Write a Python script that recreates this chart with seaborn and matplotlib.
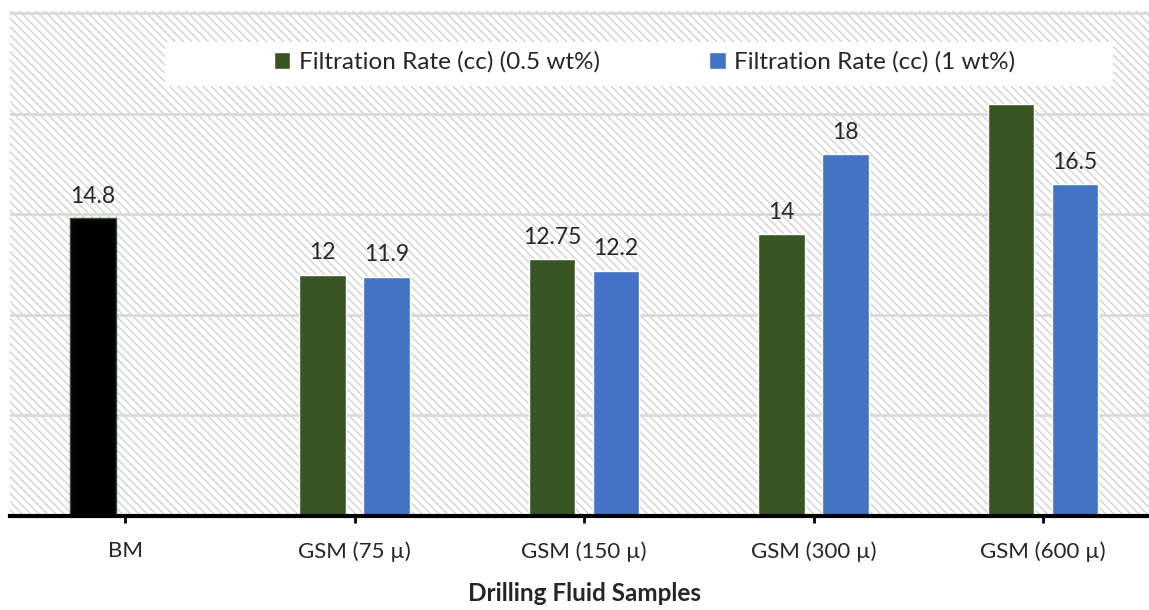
import matplotlib
matplotlib.use("Agg")
import matplotlib.pyplot as plt
import seaborn as sns
import pandas as pd
import numpy as np
from matplotlib.patches import Rectangle

categories = ["BM", "GSM (75 µ)", "GSM (150 µ)", "GSM (300 µ)", "GSM (600 µ)"]
series_names = ["Filtration Rate (cc) (0.5 wt%)", "Filtration Rate (cc) (1 wt%)"]
rate_05 = [14.8, 12.0, 12.75, 14.0, 20.5]
rate_1 = [np.nan, 11.9, 12.2, 18.0, 16.5]
labels_05 = ["14.8", "12", "12.75", "14", ""]
labels_1 = ["11.9", "12.2", "18", "16.5"]
x_title = "Drilling Fluid Samples"

sns.set_style("white")
plt.rcParams["font.family"] = ["Lato", "DejaVu Sans"]
plt.rcParams["hatch.color"] = "#d2d2d2"
plt.rcParams["hatch.linewidth"] = 1.0

rows = []
for c, v in zip(categories, rate_05):
    rows.append({"cat": c, "series": series_names[0], "val": v})
for c, v in zip(categories, rate_1):
    rows.append({"cat": c, "series": series_names[1], "val": v})
df = pd.DataFrame(rows).dropna()

W, H = 1149, 610
ax_l, ax_r = 10.25, 1157.75
ax_b, ax_t = 516, 11
fig = plt.figure(figsize=(W/100, H/100), dpi=100)
ax = fig.add_axes([ax_l/W, (H-ax_b)/H, (ax_r-ax_l)/W, (ax_b-ax_t)/H])

# hatched background
bg = Rectangle((0, 0), 1, 1, transform=ax.transAxes, facecolor="white",
               edgecolor="#d2d2d2", linewidth=0, hatch="\\\\\\\\", zorder=0)
ax.add_patch(bg)

palette = {series_names[0]: "#375623", series_names[1]: "#4472c4"}
sns.barplot(data=df, x="cat", y="val", hue="series", order=categories,
            hue_order=series_names, palette=palette, width=0.56, gap=0.28,
            saturation=1, ax=ax, zorder=3, legend=False)

ax.set_ylim(0, 25.1)
ax.set_xlim(-0.5, 4.5)
ax.set_yticks([0, 5, 10, 15, 20, 25])
ax.yaxis.grid(True, color="#d9d9d9", linewidth=2, zorder=1)
ax.set_axisbelow(True)
ax.tick_params(axis="y", left=False, labelleft=False)

for s in ["top", "left", "right"]:
    ax.spines[s].set_visible(False)
ax.spines["bottom"].set_color("black")
ax.spines["bottom"].set_linewidth(3)
ax.spines["bottom"].set_zorder(5)
ax.tick_params(axis="x", bottom=True, length=5, width=2, color="black",
               labelsize=16, pad=13)

# BM bar black
bm_bar = ax.containers[0][0]
bm_bar.set_facecolor("black")
bm_bar.set_edgecolor("#375623")
bm_bar.set_linewidth(1)

ax.bar_label(ax.containers[0], labels=labels_05, padding=8, fontsize=16.5)
ax.bar_label(ax.containers[1], labels=labels_1, padding=8, fontsize=16.5)

ax.set_xlabel(x_title, fontsize=17.5, fontweight="bold", labelpad=15)
ax.set_ylabel("")

# legend white box
aw = ax_r - ax_l
ah = ax_b - ax_t
lx0, lx1 = (165-ax_l)/aw, (1113-ax_l)/aw
ly0, ly1 = (ax_b-86)/ah, (ax_b-42)/ah
ax.add_patch(Rectangle((lx0, ly0), lx1-lx0, ly1-ly0, transform=ax.transAxes,
                       facecolor="white", edgecolor="none", zorder=6))
handles = [Rectangle((0, 0), 1, 1, facecolor=palette[n]) for n in series_names]
leg = ax.legend(handles, series_names, loc="center", ncol=2, frameon=False,
                bbox_to_anchor=((lx0+lx1)/2 + 0.005, (ly0+ly1)/2 + 0.004),
                fontsize=17.5, handlelength=0.68, handleheight=0.68,
                handletextpad=0.35, columnspacing=4.5)
leg.set_zorder(7)

fig.savefig("out.png", dpi=100)
